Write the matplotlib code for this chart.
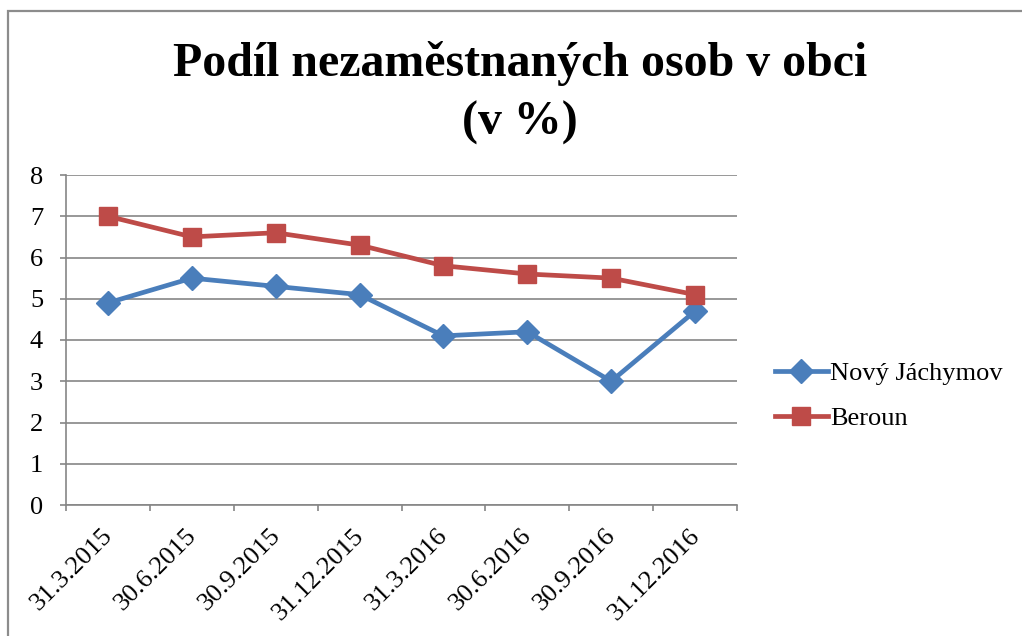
import matplotlib
matplotlib.use("Agg")
import matplotlib.pyplot as plt
from matplotlib.patches import Rectangle
import numpy as np

# data
dates = ['31.3.2015', '30.6.2015', '30.9.2015', '31.12.2015',
         '31.3.2016', '30.6.2016', '30.9.2016', '31.12.2016']
novy_jachymov = [4.9, 5.5, 5.3, 5.1, 4.1, 4.2, 3.0, 4.7]
beroun = [7.0, 6.5, 6.6, 6.3, 5.8, 5.6, 5.5, 5.1]

plt.rcParams['font.family'] = ['Liberation Serif', 'DejaVu Serif']

grid_col = '#868686'
blue = '#4a7ebb'
red = '#be4b48'

fig = plt.figure(figsize=(10.22, 6.36), dpi=100)
ax = fig.add_axes([66/1022, 1 - 505/636, (737 - 66)/1022, (505 - 175)/636])

# border around the chart object (right/bottom edges clipped off)
fig.patches.append(Rectangle((8/1022, -0.1), 1.2, 1 - 11/636 + 0.1,
                             transform=fig.transFigure, fill=False,
                             edgecolor='#8c8c8c', linewidth=1.6))

x = np.arange(len(dates))
ax.plot(x, novy_jachymov, color=blue, linewidth=3.4, marker='D',
        markersize=12, label='Nový Jáchymov')
ax.plot(x, beroun, color=red, linewidth=3.4, marker='s',
        markersize=13.5, label='Beroun')

ax.set_xlim(-0.5, len(dates) - 0.5)
ax.set_ylim(0, 8)
ax.set_yticks(range(0, 9))
ax.yaxis.grid(True, color=grid_col, linewidth=1.2)
ax.set_axisbelow(True)

# categories sit between tick marks; labels nudged a bit left like Excel
ax.set_xticks(np.arange(-0.5, len(dates), 1.0))
ax.set_xticklabels([])
ax.set_xticks(x - 0.08, minor=True)
ax.set_xticklabels(dates, minor=True, rotation=45, ha='right',
                   rotation_mode='anchor', fontsize=19)
ax.tick_params(axis='x', which='minor', length=0, pad=14)
ax.tick_params(axis='x', which='major', length=4.5, color=grid_col, width=1.2)
ax.tick_params(axis='y', length=4.5, color=grid_col, width=1.2,
               labelsize=19, pad=12)

for s in ['top', 'right']:
    ax.spines[s].set_visible(False)
for s in ['left', 'bottom']:
    ax.spines[s].set_color(grid_col)
    ax.spines[s].set_linewidth(1.2)

fig.text(0.509, 0.935, 'Podíl nezaměstnaných osob v obci\n(v %)',
         ha='center', va='top', fontsize=34.5, fontweight='bold',
         linespacing=1.42)

fig.legend(loc='center left', bbox_to_anchor=(751/1022, 1 - 396/636),
           frameon=False, fontsize=19, handlelength=2.0,
           handletextpad=0.1, labelspacing=0.8)

fig.savefig('out.png', dpi=100)
